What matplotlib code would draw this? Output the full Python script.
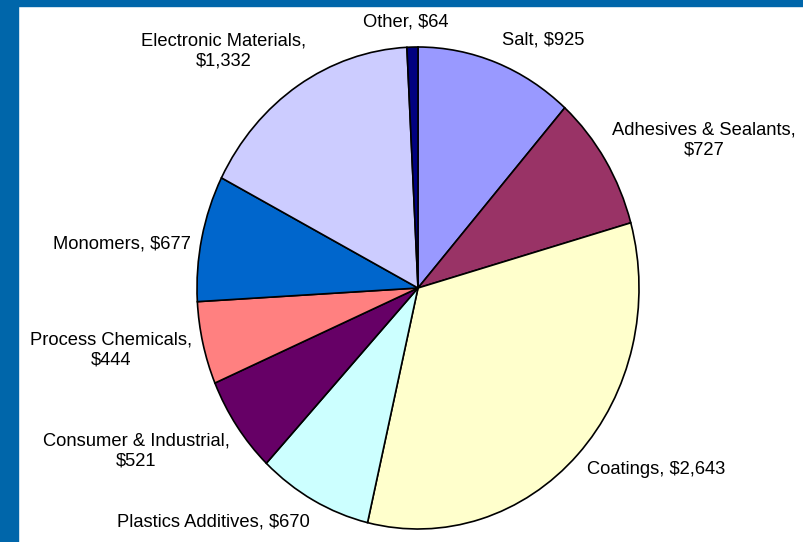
import matplotlib
matplotlib.use("Agg")
import matplotlib.pyplot as plt

categories = ["Salt", "Adhesives & Sealants", "Coatings", "Plastics Additives",
              "Consumer & Industrial", "Process Chemicals", "Monomers",
              "Electronic Materials", "Other"]
values = [925, 727, 2643, 670, 521, 444, 677, 1332, 64]
colors = ["#9999FF", "#993366", "#FFFFCC", "#CCFFFF", "#660066",
          "#FF8080", "#0066CC", "#CCCCFF", "#000080"]
label_texts = ["Salt, $925", "Adhesives & Sealants,\n$727", "Coatings, $2,643",
               "Plastics Additives, $670", "Consumer & Industrial,\n$521",
               "Process Chemicals,\n$444", "Monomers, $677",
               "Electronic Materials,\n$1,332", "Other, $64"]
# label centres in figure pixels (x from left, y from top)
label_px = [(543, 40), (704, 140), (656, 470), (213, 522), (136, 451),
            (111, 350), (122, 244), (224, 51), (406, 22)]

plt.rcParams['font.family'] = ['Liberation Sans', 'DejaVu Sans']

W, H = 804, 542
fig = plt.figure(figsize=(W / 100, H / 100), dpi=100)
fig.patch.set_facecolor("white")

# blue slide border (top and left)
fig.patches.append(plt.Rectangle((0, 1 - 6 / H), 1, 6 / H, transform=fig.transFigure,
                                 color="#0066AA", zorder=0))
fig.patches.append(plt.Rectangle((0, 0), 18 / W, 1, transform=fig.transFigure,
                                 color="#0066AA", zorder=0))

cx, cy, rx, ry = 418, 288, 221, 241
ax = fig.add_axes([(cx - rx) / W, (H - cy - ry) / H, 2 * rx / W, 2 * ry / H])
ax.pie(values, colors=colors, startangle=90, counterclock=False,
       wedgeprops=dict(edgecolor="black", linewidth=1.2))
ax.set_aspect("auto")
ax.set_xlim(-1, 1)
ax.set_ylim(-1, 1)
ax.axis("off")

for txt, (px, py) in zip(label_texts, label_px):
    fig.text(px / W, 1 - py / H, txt, ha="center", va="center", fontsize=13.2,
             color="black", linespacing=1.25)

fig.savefig("out.png", dpi=100)
